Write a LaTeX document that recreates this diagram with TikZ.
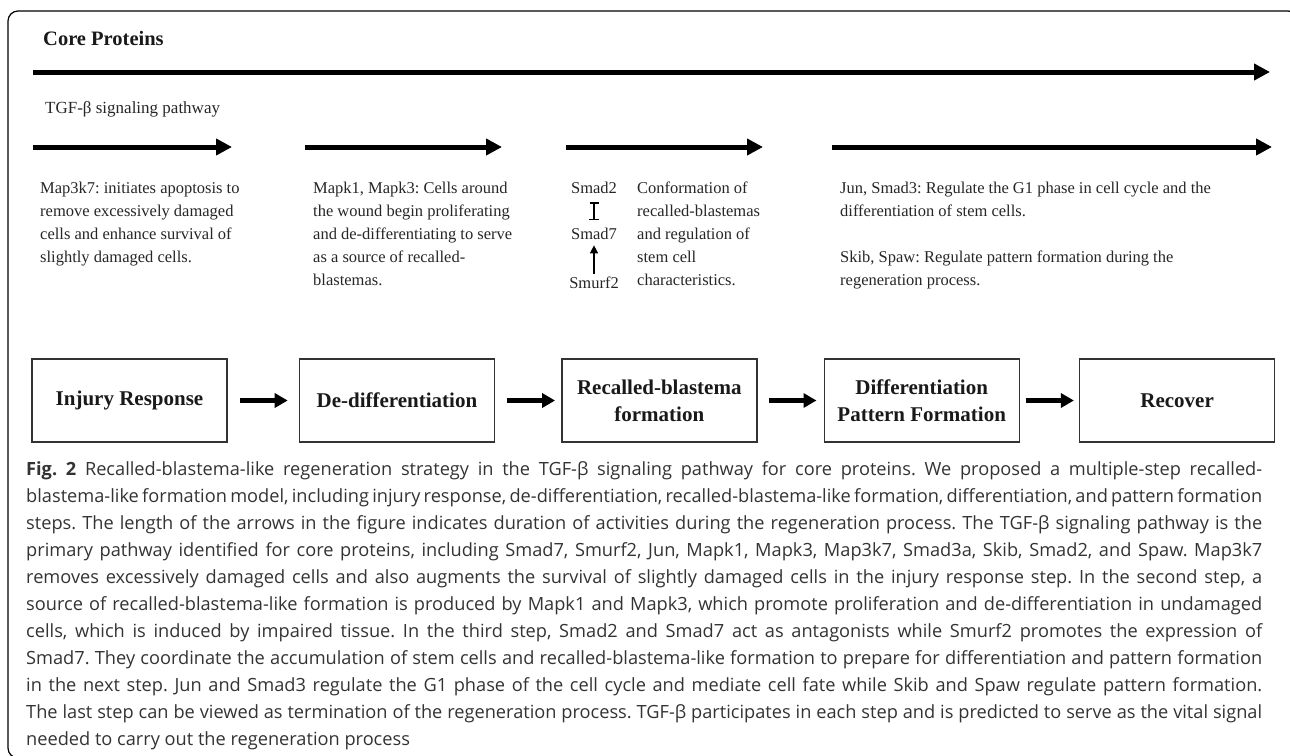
\documentclass[tikz,border=0pt]{standalone}
\usepackage{fontspec}
\setmainfont{Liberation Serif}
\newfontfamily\capfont{Open Sans}
\usetikzlibrary{arrows.meta,positioning}
\newlength{\capw}
\setlength{\capw}{1236pt}
\newcommand{\capline}[1]{\makebox[\capw][s]{#1}\\}
\frenchspacing

\begin{document}
\begin{tikzpicture}[x=1pt, y=-1pt,
    txt/.style={inner sep=0pt, align=left, anchor=north west, text=black!85, font=\fontsize{16.5}{23}\selectfont},
    smad/.style={inner sep=0pt, anchor=base, text=black!85, font=\fontsize{16.5}{23}\selectfont},
    box/.style={draw=black!80, line width=1.4pt, minimum width=195pt, minimum height=83pt, align=center, inner sep=0pt, text=black!90, font=\bfseries\fontsize{21}{27}\selectfont},
    longarrow/.style={line width=5pt, -{Triangle[length=16pt,width=16pt]}},
    boxarrow/.style={line width=4.5pt, -{Triangle[length=13pt,width=14pt]}}
]
\useasboundingbox (0,0) rectangle (1290,755);
\draw[line width=1.2pt, rounded corners=10pt] (8,11) rectangle (1298,758);

\node[anchor=base west, inner sep=0pt, text=black!90, font=\bfseries\fontsize{20.5}{24}\selectfont] (core) at (43,45) {Core Proteins};
\coordinate (core-s) at (33,72);
\coordinate (core-e) at (1270,72);
\draw[longarrow] (core-s) -- (core-e);

\node[anchor=base west, inner sep=0pt, text=black!85, font=\fontsize{17}{23}\selectfont] (tgf) at (45,113) {TGF-β signaling pathway};

\coordinate (p1-s) at (33,147);
\coordinate (p1-e) at (232,147);
\coordinate (p2-s) at (305,147);
\coordinate (p2-e) at (502,147);
\coordinate (p3-s) at (566,147);
\coordinate (p3-e) at (763,147);
\coordinate (p4-s) at (832,147);
\coordinate (p4-e) at (1272,147);
\draw[longarrow] (p1-s) -- (p1-e);
\draw[longarrow] (p2-s) -- (p2-e);
\draw[longarrow] (p3-s) -- (p3-e);
\draw[longarrow] (p4-s) -- (p4-e);

\node[txt] (map3k7) at (40,182) {Map3k7: initiates apoptosis to\\remove excessively damaged\\cells and enhance survival of\\slightly damaged cells.};
\node[txt] (mapk) at (313,182) {Mapk1, Mapk3: Cells around\\the wound begin proliferating\\and de-differentiating to serve\\as a source of recalled-\\blastemas.};

\node[smad] (smad2) at (594,193) {Smad2};
\node[smad] (smad7) at (594,239) {Smad7};
\node[smad] (smurf2) at (594,288) {Smurf2};
\draw[line width=1.3pt, {Bar[width=9pt]}-{Bar[width=10pt]}, shorten <=9pt, shorten >=7pt] (smad2.south) -- (smad7.north);
\draw[line width=1.5pt, -{Triangle[length=8pt,width=8pt]}, shorten <=2pt, shorten >=6pt] (smurf2.north) -- (smad7.south);

\node[txt] (conform) at (637,182) {Conformation of\\recalled-blastemas\\and regulation of\\stem cell\\characteristics.};
\node[txt] (junsmad) at (840,182) {Jun, Smad3: Regulate the G1 phase in cell cycle and the\\differentiation of stem cells.\\[23pt]Skib, Spaw: Regulate pattern formation during the\\regeneration process.};

\node[box] (injury) at (129.5,400.5) {Injury Response};
\node[box, right=71pt of injury] (dediff) {De-differentiation};
\node[box, right=66pt of dediff] (blastema) {Recalled-blastema\\formation};
\node[box, right=66pt of blastema] (pattern) {Differentiation\\Pattern Formation};
\node[box, right=59pt of pattern] (recover) {Recover};

\draw[boxarrow, shorten <=12pt, shorten >=11pt] (injury) -- (dediff);
\draw[boxarrow, shorten <=12pt, shorten >=6pt] (dediff) -- (blastema);
\draw[boxarrow, shorten <=11pt, shorten >=7pt] (blastema) -- (pattern);
\draw[boxarrow, shorten <=6pt, shorten >=5pt] (pattern) -- (recover);

\node[anchor=north west, inner sep=0pt, align=left, text=black!80, font=\capfont\fontsize{18.2}{27}\selectfont] (caption) at (26,461) {%
\capline{\textbf{Fig. 2} Recalled-blastema-like regeneration strategy in the TGF-β signaling pathway for core proteins. We proposed a multiple-step recalled-}%
\capline{blastema-like formation model, including injury response, de-differentiation, recalled-blastema-like formation, differentiation, and pattern formation}%
\capline{steps. The length of the arrows in the figure indicates duration of activities during the regeneration process. The TGF-β signaling pathway is the}%
\capline{primary pathway identified for core proteins, including Smad7, Smurf2, Jun, Mapk1, Mapk3, Map3k7, Smad3a, Skib, Smad2, and Spaw. Map3k7}%
\capline{removes excessively damaged cells and also augments the survival of slightly damaged cells in the injury response step. In the second step, a}%
\capline{source of recalled-blastema-like formation is produced by Mapk1 and Mapk3, which promote proliferation and de-differentiation in undamaged}%
\capline{cells, which is induced by impaired tissue. In the third step, Smad2 and Smad7 act as antagonists while Smurf2 promotes the expression of}%
\capline{Smad7. They coordinate the accumulation of stem cells and recalled-blastema-like formation to prepare for differentiation and pattern formation}%
\capline{in the next step. Jun and Smad3 regulate the G1 phase of the cell cycle and mediate cell fate while Skib and Spaw regulate pattern formation.}%
\capline{The last step can be viewed as termination of the regeneration process. TGF-β participates in each step and is predicted to serve as the vital signal}%
needed to carry out the regeneration process};
\end{tikzpicture}
\end{document}
